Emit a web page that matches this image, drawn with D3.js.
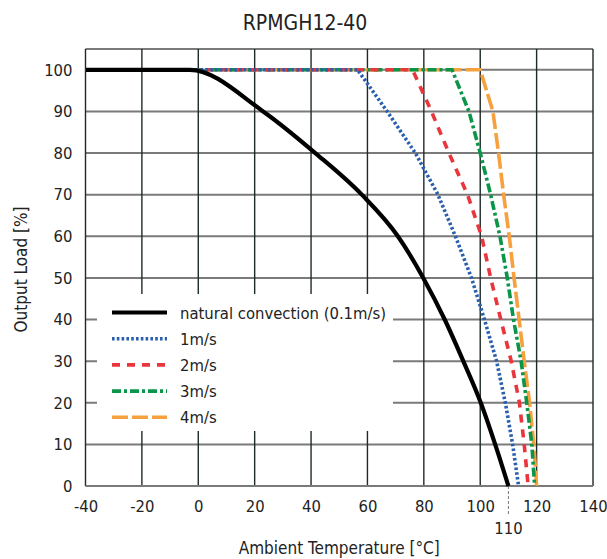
<!DOCTYPE html>
<html><head><meta charset="utf-8">
<script src="https://cdn.jsdelivr.net/npm/d3@7"></script>
<style>
body{margin:0;background:#fff;}
text{font-family:"DejaVu Sans Condensed","DejaVu Sans",sans-serif;font-stretch:semi-condensed;fill:#222;}
</style></head><body>
<svg id="c" width="607" height="559"></svg>
<script>
const title = "RPMGH12-40";
const xTicks = [-40,-20,0,20,40,60,80,100,120,140];
const yTicks = [0,10,20,30,40,50,60,70,80,90,100];
const extraXTick = 110;
const xLabel = "Ambient Temperature [°C]";
const yLabel = "Output Load [%]";
const seriesNames = ["natural convection (0.1m/s)","1m/s","2m/s","3m/s","4m/s"];
const natural = [[-40,100],[-3,100],[23,90],[41.5,80],[58,70],[70.8,60],[79.8,50],[87.4,40],[94,30],[100.2,20],[105.3,10],[110,0]];
const air1 = [[-40,100],[56.5,100],[67,90],[77,80],[85,70],[91.2,60],[96.9,50],[101.5,40],[105.8,30],[108.9,20],[111.5,10],[113.6,0]];
const air2 = [[-40,100],[76,100],[82.7,90],[88.9,80],[95.5,70],[100.5,60],[103.7,50],[107.3,40],[111,30],[113.9,20],[115.6,10],[117,0]];
const air3 = [[-40,100],[90,100],[96,90],[100,80],[103.7,70],[107,60],[109.6,50],[111.8,40],[114.5,30],[116.5,20],[118.3,10],[119.3,0]];
const air4 = [[-40,100],[100,100],[104.5,90],[106.5,80],[108.3,70],[110.3,60],[112,50],[113.8,40],[115.6,30],[117.5,20],[119,10],[120,0]];

const svg = d3.select("#c");
const m = {l:85.5, r:593, t:49, b:486};
const x = d3.scaleLinear().domain([-40,140]).range([m.l,m.r]);
const y = d3.scaleLinear().domain([0,105]).range([m.b,m.t]);
const FS = 16.5;

// grid
const g = svg.append("g");
g.selectAll(".hg").data(yTicks.concat([105])).join("line")
 .attr("x1",m.l).attr("x2",m.r).attr("y1",d=>y(d)).attr("y2",d=>y(d))
 .attr("stroke","#7a7a7a").attr("stroke-width",2);
g.selectAll(".vg").data(xTicks).join("line")
 .attr("x1",d=>x(d)).attr("x2",d=>x(d)).attr("y1",m.t).attr("y2",m.b)
 .attr("stroke","#1e2a28").attr("stroke-width",1.4);
g.append("line").attr("x1",m.l).attr("x2",m.r).attr("y1",y(0)).attr("y2",y(0)).attr("stroke","#7a7a7a").attr("stroke-width",2);

// axes (text via d3 axes)
const fmt = d => String(d);
const xa = svg.append("g").attr("transform",`translate(0,${m.b})`)
 .call(d3.axisBottom(x).tickValues(xTicks).tickFormat(fmt).tickSize(0).tickPadding(14));
const ya = svg.append("g").attr("transform",`translate(${m.l},0)`)
 .call(d3.axisLeft(y).tickValues(yTicks).tickFormat(fmt).tickSize(0).tickPadding(13));
[xa,ya].forEach(a=>{a.select(".domain").remove();a.selectAll("text").attr("font-size",FS).attr("font-family",null).style("fill","#222");});

// 110 marker
svg.append("line").attr("x1",x(extraXTick)).attr("x2",x(extraXTick)).attr("y1",m.b).attr("y2",m.b+29)
 .attr("stroke","#777").attr("stroke-width",1).attr("stroke-dasharray","3,2");
svg.append("text").attr("x",x(extraXTick)).attr("y",m.b+48).attr("text-anchor","middle").attr("font-size",FS).text(extraXTick);

// titles
svg.append("text").attr("x",305).attr("y",30).attr("text-anchor","middle").attr("font-size",21).text(title);
svg.append("text").attr("x",(m.l+m.r)/2).attr("y",554).attr("text-anchor","middle").attr("font-size",17).text(xLabel);
svg.append("text").attr("transform",`translate(27,${(m.t+m.b)/2+2}) rotate(-90)`).attr("text-anchor","middle").attr("font-size",17).text(yLabel);

// legend box
svg.append("rect").attr("x",97).attr("y",294).attr("width",296).attr("height",137).attr("fill","#fff");

const styles = [
 {c:"#000000", w:4.2, d:null},
 {c:"#2a5fae", w:3.6, d:"2.6,2.2"},
 {c:"#e8363c", w:3.6, d:"8,7"},
 {c:"#0b9548", w:3.6, d:"9,3,3,3"},
 {c:"#f7a03e", w:3.6, d:"16,4"}
];
const data = [natural, air1, air2, air3, air4];
const line = d3.line().x(d=>x(d[0])).y(d=>y(d[1]));
const lineSmooth = d3.line().x(d=>x(d[0])).y(d=>y(d[1])).curve(d3.curveMonotoneX);
[4,3,2,1,0].forEach(i=>{
  svg.append("path").datum(data[i]).attr("fill","none")
   .attr("stroke",styles[i].c).attr("stroke-width",styles[i].w)
   .attr("stroke-dasharray",styles[i].d)
   .attr("d", i===0 ? lineSmooth : line);
});

// legend
const lg = svg.append("g");
seriesNames.forEach((n,i)=>{
  const yy = 312.5 + i*26.2;
  lg.append("line").attr("x1",112).attr("x2",167).attr("y1",yy).attr("y2",yy)
   .attr("stroke",styles[i].c).attr("stroke-width",styles[i].w).attr("stroke-dasharray",styles[i].d);
  lg.append("text").attr("x",180).attr("y",yy+6).attr("font-size",FS).text(n);
});
</script></body></html>
